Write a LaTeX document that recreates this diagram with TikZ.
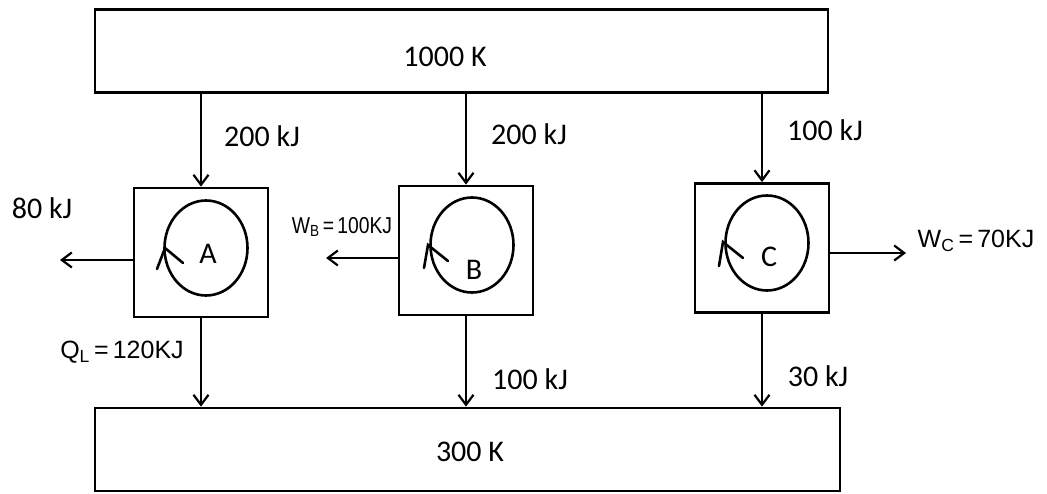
\documentclass[tikz,border=0pt]{standalone}
\usepackage{fontspec}
\usepackage{graphicx}
\setmainfont{Carlito}
\newfontfamily\hand{Liberation Sans}
\usetikzlibrary{arrows.meta,shapes.geometric}
\begin{document}
\begin{tikzpicture}[x=1pt,y=-1pt,
  res/.style={draw,line width=2.8pt,inner sep=0pt},
  engbox/.style={draw,line width=2.8pt,minimum width=134pt,minimum height=129pt,inner sep=0pt},
  cyc/.style={draw,ellipse,line width=2.6pt,minimum width=83pt,minimum height=95pt,inner sep=0pt},
  lbl/.style={font=\fontsize{30}{32}\selectfont,text height=19pt,text depth=0pt,inner sep=0pt},
  hlbl/.style={font=\hand\fontsize{25}{27}\selectfont,inner sep=0pt},
  flow/.style={line width=2.2pt,-{Straight Barb[length=10pt,width=15pt]}},
  chev/.style={line width=2.6pt,line cap=round,line join=miter}]
\useasboundingbox (0,0) rectangle (1047,494);
% reservoirs
\node[res,minimum width=733pt,minimum height=83pt] (T) at (461.5,51) {};
\node[res,minimum width=745pt,minimum height=83pt] (L) at (467.5,449.5) {};
\node[lbl] (tT) at (445,57) {1000 K};
\node[lbl] (tL) at (470,452) {300 K};
% engines
\node[engbox] (A) at (201,252.5) {};
\node[engbox] (B) at (466,250.5) {};
\node[engbox] (C) at (762,248) {};
\node[cyc] (cA) at (206,248) {};
\node[cyc] (cB) at (472,245) {};
\node[cyc] (cC) at (767,243) {};
\node[lbl] (nA) at (208,254) {A};
\node[lbl] (nB) at (474,270) {B};
\node[lbl] (nC) at (769,257) {C};
\draw[chev] (157,269) -- (165,248) -- (183,263);
\draw[chev] (424,268) -- (428,245) -- (448,261);
\draw[chev] (719,266) -- (723,242) -- (743,258);
% heat in
\draw[flow] (A.north |- T.south) -- (A.north);
\draw[flow] (B.north |- T.south) -- (B.north);
\draw[flow] (C.north |- T.south) -- (C.north);
\node[lbl] (qA) at (262,137) {200 kJ};
\node[lbl] (qB) at (529,135) {200 kJ};
\node[lbl] (qC) at (825,131) {100 kJ};
% heat out
\draw[flow] (A.south) -- (A.south |- L.north);
\draw[flow] (B.south) -- (B.south |- L.north);
\draw[flow] (C.south) -- (C.south |- L.north);
\node[hlbl] (qLA) at (122,352) {Q\textsubscript{L}\,=\,120KJ};
\node[lbl] (qLB) at (530,380) {100 kJ};
\node[lbl] (qLC) at (818,377) {30 kJ};
% work
\coordinate (wA) at (60,260);
\coordinate (wB) at (326,258);
\coordinate (wC) at (906,253);
\draw[flow] (A.west |- wA) -- (wA);
\draw[flow] (B.west |- wB) -- (wB);
\draw[flow] (C.east |- wC) -- (wC);
\node[lbl] (tWA) at (42,209) {80 kJ};
\node[hlbl,font=\hand\fontsize{23}{25}\selectfont] (tWB) at (342,227) {\scalebox{0.84}[1]{W\textsubscript{B}\,=\,100KJ}};
\node[hlbl] (tWC) at (976,241) {W\textsubscript{C}\,=\,70KJ};
\end{tikzpicture}
\end{document}
